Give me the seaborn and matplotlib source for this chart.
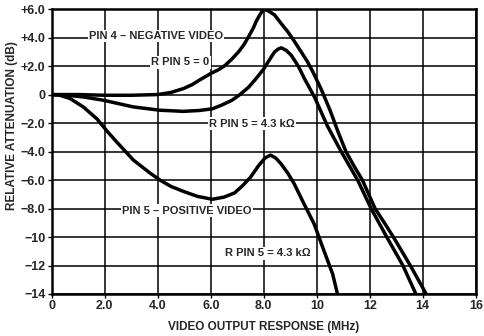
import matplotlib
matplotlib.use("Agg")
import matplotlib.pyplot as plt
import seaborn as sns
import pandas as pd

# curves (MHz, dB)
neg_r0_x = [0, 1, 2, 3, 4, 4.5, 4.97, 5.3, 5.56, 6.0, 6.3, 6.55, 6.8, 7.05, 7.25, 7.42,
            7.6, 7.73, 7.87, 8.0, 8.2, 8.41, 8.65, 8.91, 9.15, 9.41, 9.65, 9.85, 10.16,
            10.5, 10.8, 11.1, 11.4, 11.72, 12.2, 12.55, 12.89, 13.53, 14.13]
neg_r0_y = [0, 0, -0.05, -0.05, 0, 0.15, 0.42, 0.7, 1.0, 1.48, 1.75, 2.06, 2.5, 3.0, 3.5, 4.04,
            4.65, 5.2, 5.65, 6.0, 5.85, 5.58, 5.0, 4.4, 3.75, 3.0, 2.3, 1.6, 0.4,
            -1.1, -2.6, -4.0, -5.0, -6.0, -8.0, -9.0, -10.0, -12.0, -14.0]

neg_r43_x = [0, 0.6, 1.19, 1.95, 3.08, 4.08, 4.97, 5.56, 6.06, 6.4, 6.8, 7.1, 7.42, 7.7,
             8.0, 8.2, 8.41, 8.55, 8.66, 8.85, 9.04, 9.3, 9.54, 9.92, 10.4, 10.92, 11.54,
             12.05, 12.64, 13.25, 13.74]
neg_r43_y = [0, -0.05, -0.17, -0.4, -0.87, -1.1, -1.18, -1.12, -1.0, -0.75, -0.4, 0.0, 0.5, 1.1,
             1.8, 2.4, 3.0, 3.2, 3.28, 3.1, 2.75, 2.0, 1.1, -0.2, -2.2, -4.0, -6.0,
             -8.0, -10.0, -12.0, -14.0]

pos_r43_x = [0, 0.3, 0.69, 1.19, 1.7, 2.1, 2.45, 3.08, 3.7, 4.08, 4.5, 4.97, 5.5, 6.06, 6.5,
             6.9, 7.2, 7.5, 7.8, 8.05, 8.25, 8.45, 8.65, 8.9, 9.15, 9.52, 9.9, 10.27, 10.6, 10.78]
pos_r43_y = [0, -0.05, -0.28, -0.87, -1.7, -2.6, -3.33, -4.6, -5.5, -6.0, -6.45, -6.8, -7.15,
             -7.35, -7.2, -6.9, -6.4, -5.8, -5.0, -4.45, -4.25, -4.45, -4.86, -5.5, -6.27,
             -7.68, -9.08, -10.96, -12.6, -14.0]

x_ticks = [0, 2, 4, 6, 8, 10, 12, 14, 16]
x_ticklabels = ["0", "2.0", "4.0", "6.0", "8.0", "10", "12", "14", "16"]
y_ticks = [6, 4, 2, 0, -2, -4, -6, -8, -10, -12, -14]
y_ticklabels = ["+6.0", "+4.0", "+2.0", "0", "\u22122.0", "\u22124.0", "\u22126.0",
                "\u22128.0", "\u221210", "\u221212", "\u221214"]

sns.set_theme(style="white")
plt.rcParams["font.family"] = ["Liberation Sans", "DejaVu Sans"]
plt.rcParams["font.weight"] = "bold"

fig = plt.figure(figsize=(4.84, 3.36), dpi=100)
ax = fig.add_axes([0.107, 0.125, 0.876, 0.848])

curves = [(neg_r0_x, neg_r0_y), (neg_r43_x, neg_r43_y), (pos_r43_x, pos_r43_y)]
for xs, ys in curves:
    df = pd.DataFrame({"f": xs, "db": ys})
    sns.lineplot(data=df, x="f", y="db", ax=ax, color="black", lw=2.5,
                 sort=False, estimator=None, zorder=3,
                 solid_joinstyle="round", solid_capstyle="butt")

ax.set_xlim(0, 16)
ax.set_ylim(-14, 6)
ax.set_xticks(x_ticks)
ax.set_xticklabels(x_ticklabels)
ax.set_yticks(y_ticks)
ax.set_yticklabels(y_ticklabels)
ax.tick_params(axis="both", labelsize=9, length=3, width=1, color="black",
               pad=1.5, direction="out", left=True, bottom=True)
ax.grid(True, color="black", lw=1.1)
for s in ax.spines.values():
    s.set_color("black")
    s.set_linewidth(1.8)

ax.set_xlabel("VIDEO OUTPUT RESPONSE (MHz)", fontsize=8.5, fontweight="bold", labelpad=6)
ax.set_ylabel("RELATIVE ATTENUATION (dB)", fontsize=8.5, fontweight="bold")
ax.yaxis.set_label_coords(-0.08, 0.59)

box = dict(facecolor="white", edgecolor="none", pad=1.0)
ax.text(3.93, 4.1, "PIN 4 \u2013 NEGATIVE VIDEO", fontsize=8, ha="center", va="center",
        bbox=box, zorder=4)
ax.text(4.85, 2.25, "R PIN 5 = 0", fontsize=8, ha="center", va="center", bbox=box, zorder=4)
ax.text(7.55, -2.05, "R PIN 5 = 4.3 k\u03a9", fontsize=8, ha="center", va="center",
        bbox=box, zorder=4)
ax.text(5.1, -8.15, "PIN 5 \u2013 POSITIVE VIDEO", fontsize=8, ha="center", va="center",
        bbox=box, zorder=4)
ax.text(8.15, -11.15, "R PIN 5 = 4.3 k\u03a9", fontsize=8, ha="center", va="center",
        bbox=box, zorder=4)

fig.savefig("out.png", dpi=100)
